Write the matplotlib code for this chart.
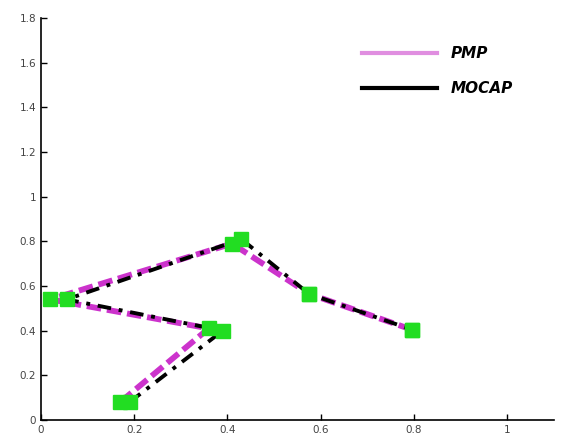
import matplotlib.pyplot as plt
from matplotlib.lines import Line2D
from matplotlib.ticker import FuncFormatter

# joint positions
pmp_x = [0.17, 0.36, 0.02, 0.41, 0.575, 0.795]
pmp_y = [0.08, 0.41, 0.54, 0.79, 0.565, 0.405]
mocap_x = [0.19, 0.39, 0.055, 0.43, 0.575, 0.795]
mocap_y = [0.08, 0.40, 0.54, 0.81, 0.565, 0.405]

x_ticks = [0, 0.2, 0.4, 0.6, 0.8, 1]
y_ticks = [0, 0.2, 0.4, 0.6, 0.8, 1, 1.2, 1.4, 1.6, 1.8]

fig = plt.figure(figsize=(5.61, 4.43), dpi=100)
ax = fig.add_axes([0.073, 0.052, 0.914, 0.907])

ax.plot(pmp_x, pmp_y, color='#cc33cc', lw=4.2, ls=(0, (2.5, 1)), zorder=2)
ax.plot(mocap_x, mocap_y, color='black', lw=2.8, ls=(0, (3.5, 2, 1, 2)), zorder=3)
ax.plot(pmp_x, pmp_y, ls='none', marker='s', ms=9.5, color='#22dd22', zorder=4)
ax.plot(mocap_x, mocap_y, ls='none', marker='s', ms=9.5, color='#22dd22', zorder=4)

ax.set_xlim(0, 1.1)
ax.set_ylim(0, 1.8)
ax.set_xticks(x_ticks)
ax.set_yticks(y_ticks)
ax.xaxis.set_major_formatter(FuncFormatter(lambda v, p: '%g' % v))
ax.yaxis.set_major_formatter(FuncFormatter(lambda v, p: '%g' % v))
ax.tick_params(direction='in', length=4, width=1, labelsize=7.5, labelcolor='#444444')
for s in ['top', 'right']:
    ax.spines[s].set_visible(False)
for s in ['left', 'bottom']:
    ax.spines[s].set_linewidth(1.2)

handles = [Line2D([], [], color='#e08ee0', lw=3),
           Line2D([], [], color='black', lw=3)]
leg = ax.legend(handles, ['PMP', 'MOCAP'], loc='upper left', bbox_to_anchor=(0.626, 0.93),
                frameon=False, borderpad=0, borderaxespad=0, handlelength=4.9,
                handletextpad=0.9, labelspacing=1.3,
                prop={'style': 'italic', 'weight': 'semibold', 'size': 11})

fig.savefig('out.png')
